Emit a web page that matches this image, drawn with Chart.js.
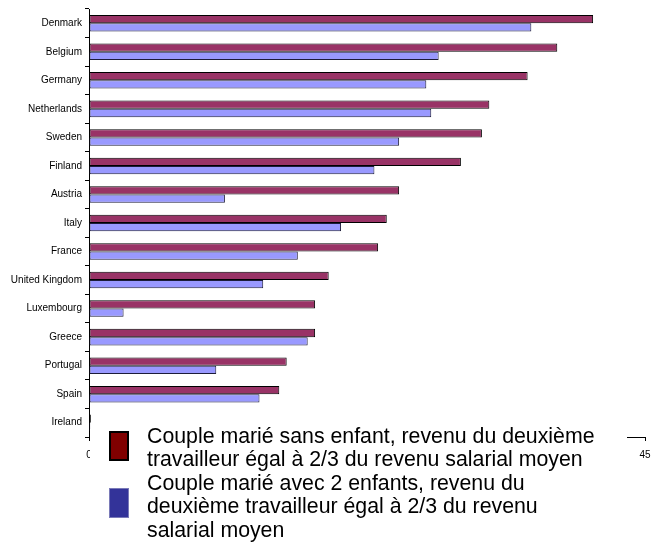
<!DOCTYPE html>
<html>
<head>
<meta charset="utf-8">
<script src="https://cdn.jsdelivr.net/npm/chart.js@4/dist/chart.umd.min.js"></script>
<style>
  html, body { margin: 0; padding: 0; background: #fff; }
  #wrap { position: relative; width: 666px; height: 542px; overflow: hidden; }
  #c { position: absolute; left: 0; top: 0; }
  #legend { position: absolute; left: 90px; top: 429px; width: 537px; height: 113px; background: #fff; }
  .sw { position: absolute; box-sizing: border-box; }
  .lt { position: absolute; font-family: "Liberation Sans", Arial, sans-serif; font-size: 21.3px; line-height: 23.5px; color: #000; white-space: nowrap; }
</style>
</head>
<body>
<div id="wrap">
  <canvas id="c" width="666" height="542"></canvas>
  <div id="legend"></div>
</div>
<script>
// ---- Data ----
const countries = ["Denmark", "Belgium", "Germany", "Netherlands", "Sweden", "Finland", "Austria", "Italy", "France", "United Kingdom", "Luxembourg", "Greece", "Portugal", "Spain", "Ireland"];
const noChildren = [40.8, 37.9, 35.5, 32.4, 31.8, 30.1, 25.1, 24.1, 23.4, 19.4, 18.3, 18.3, 16.0, 15.4, 0.15];
const twoChildren = [35.8, 28.3, 27.3, 27.7, 25.1, 23.1, 11.0, 20.4, 16.9, 14.1, 2.8, 17.7, 10.3, 13.8, 0.1];
const seriesLabelLines = [
  ["Couple marié sans enfant, revenu du deuxième", "travailleur égal à 2/3 du revenu salarial moyen"],
  ["Couple marié avec 2 enfants, revenu du", "deuxième travailleur égal à 2/3 du revenu", "salarial moyen"]
];
const xTickMin = 0, xTickMax = 45, xTickStep = 5;

// ---- Styles ----
const barColors = ["#993366", "#9999FF"];
const barBorders = ["#000000", "#1c1c3a"];
const legendColors = ["#800000", "#333399"];
const legendBorders = ["#000000", "#7a7ab8"];

const chart = new Chart(document.getElementById("c"), {
  type: "bar",
  data: {
    labels: countries,
    datasets: [
      { label: seriesLabelLines[0].join(" "), data: noChildren, backgroundColor: barColors[0], borderColor: barBorders[0], borderWidth: 1, borderSkipped: false },
      { label: seriesLabelLines[1].join(" "), data: twoChildren, backgroundColor: barColors[1], borderColor: barBorders[1], borderWidth: 1, borderSkipped: false }
    ]
  },
  options: {
    indexAxis: "y",
    responsive: false,
    animation: false,
    devicePixelRatio: 1,
    layout: { padding: { top: 5, right: 21, left: 0, bottom: 0 } },
    datasets: { bar: { categoryPercentage: 0.58, barPercentage: 1.0 } },
    plugins: { legend: { display: false }, tooltip: { enabled: false } },
    scales: {
      y: {
        type: "category",
        offset: true,
        grid: { offset: true, drawOnChartArea: false, drawTicks: true, tickLength: 4, color: "#000", lineWidth: 1 },
        border: { display: true, color: "#000", width: 1 },
        ticks: { color: "#000", font: { family: "'Liberation Sans', Arial, sans-serif", size: 10 }, padding: 3, autoSkip: false },
        afterFit: (s) => { s.width = 89; }
      },
      x: {
        min: xTickMin, max: xTickMax,
        grid: { drawOnChartArea: false, drawTicks: true, tickLength: 4, color: "#000", lineWidth: 1 },
        border: { display: true, color: "#000", width: 1 },
        ticks: { stepSize: xTickStep, color: "#000", font: { family: "'Liberation Sans', Arial, sans-serif", size: 10 }, padding: 8, maxRotation: 0 },
        afterFit: (s) => { s.height = 105; }
      }
    }
  }
});

// ---- Legend (HTML, real text) ----
const legend = document.getElementById("legend");
const legendLayout = [
  { swTop: 430.5, textTop: 424.5 },
  { swTop: 487.5, textTop: 471.5 }
];
chart.data.datasets.forEach((ds, i) => {
  const sw = document.createElement("div");
  sw.className = "sw";
  sw.style.left = (109 - 90) + "px";
  sw.style.top = (legendLayout[i].swTop - 429) + "px";
  sw.style.width = "20px";
  sw.style.height = "30px";
  sw.style.background = legendColors[i];
  sw.style.border = (i === 0 ? "2px" : "1px") + " solid " + legendBorders[i];
  legend.appendChild(sw);
  const t = document.createElement("div");
  t.className = "lt";
  t.style.left = (147 - 90) + "px";
  t.style.top = (legendLayout[i].textTop - 429) + "px";
  t.innerHTML = seriesLabelLines[i].map(s => s.replace(/&/g, "&amp;").replace(/</g, "&lt;")).join("<br>");
  legend.appendChild(t);
});
</script>
</body>
</html>
